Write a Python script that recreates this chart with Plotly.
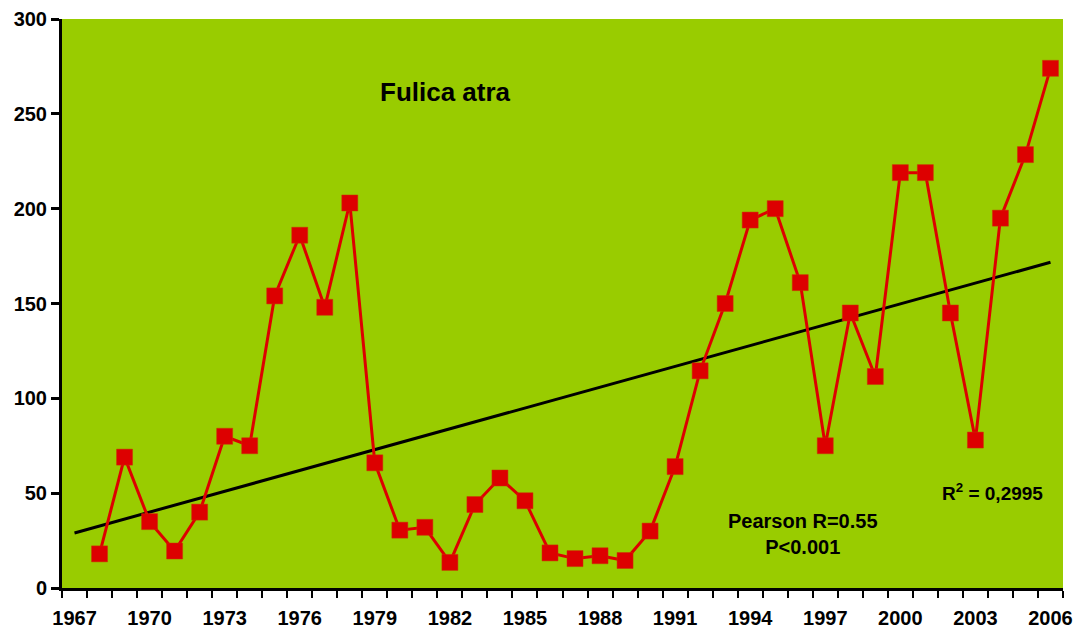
import numpy as np
import plotly.graph_objects as go

years = list(range(1968, 2007))
counts = [18, 69, 35, 19.5, 40, 80, 75, 154, 186, 148, 203, 66, 30.5, 32, 13.5, 44,
          58, 46, 18.5, 15.5, 17, 14.5, 30, 64, 114.5, 150, 194, 200, 161, 75, 145,
          111.5, 219, 219, 145, 78, 195, 228.5, 274]
label_years = list(range(1967, 2007, 3))
y_ticks = [0, 50, 100, 150, 200, 250, 300]

# linear trend (least squares), drawn across the full category span 1967-2006
slope, intercept = np.polyfit(years, counts, 1)
trend_x = [1967, 2006]
trend_y = [slope * x + intercept for x in trend_x]

FONT = "Liberation Sans, Arial, sans-serif"

fig = go.Figure()
fig.add_trace(go.Scatter(
    x=trend_x, y=trend_y, mode="lines",
    line=dict(color="black", width=3), hoverinfo="skip", showlegend=False))
fig.add_trace(go.Scatter(
    x=years, y=counts, mode="lines+markers",
    line=dict(color="#DD0000", width=3),
    marker=dict(symbol="square", size=16, color="#DD0000",
                line=dict(color="#CC3300", width=0.5)),
    showlegend=False))

fig.update_layout(
    width=1077, height=631,
    margin=dict(l=62, r=14, t=19, b=43, autoexpand=False),
    paper_bgcolor="white", plot_bgcolor="#99CC00",
    font=dict(family=FONT, color="black"),
    xaxis=dict(
        range=[1966.5, 2006.5], tickmode="array", tickvals=label_years,
        ticktext=[str(y) for y in label_years], ticks="", showgrid=False,
        zeroline=False, showline=True, linecolor="black", linewidth=3,
        automargin=False, ticklabelstandoff=10,
        tickfont=dict(family=FONT, size=20, color="black", weight="bold"),
        minor=dict(tickmode="linear", tick0=1966.5, dtick=1, ticks="outside",
                   ticklen=7, tickwidth=2, tickcolor="black", showgrid=False),
    ),
    yaxis=dict(
        range=[0, 300], tickmode="array", tickvals=y_ticks,
        ticks="outside", ticklen=8, tickwidth=3, tickcolor="black",
        showgrid=False, zeroline=False, showline=True, linecolor="black",
        linewidth=3, automargin=False,
        tickfont=dict(family=FONT, size=20, color="black", weight="bold"),
    ),
    annotations=[
        dict(text="Fulica atra", x=0.383, y=0.872, xref="paper", yref="paper",
             xanchor="center", yanchor="middle", showarrow=False,
             font=dict(family=FONT, size=26, color="black", weight="bold")),
        dict(text="Pearson R=0.55<br>P<0.001", x=0.740, y=0.095,
             xref="paper", yref="paper", xanchor="center", yanchor="middle",
             showarrow=False, align="center",
             font=dict(family=FONT, size=20, color="black", weight="bold")),
        dict(text="R<sup>2</sup> = 0,2995", x=0.930, y=0.169,
             xref="paper", yref="paper", xanchor="center", yanchor="middle",
             showarrow=False,
             font=dict(family=FONT, size=19, color="black", weight="bold")),
    ],
)

fig.write_html("out.html", config={"displayModeBar": False},
               post_script="document.body.style.margin='0px';"
                           "document.body.style.overflow='hidden';")
